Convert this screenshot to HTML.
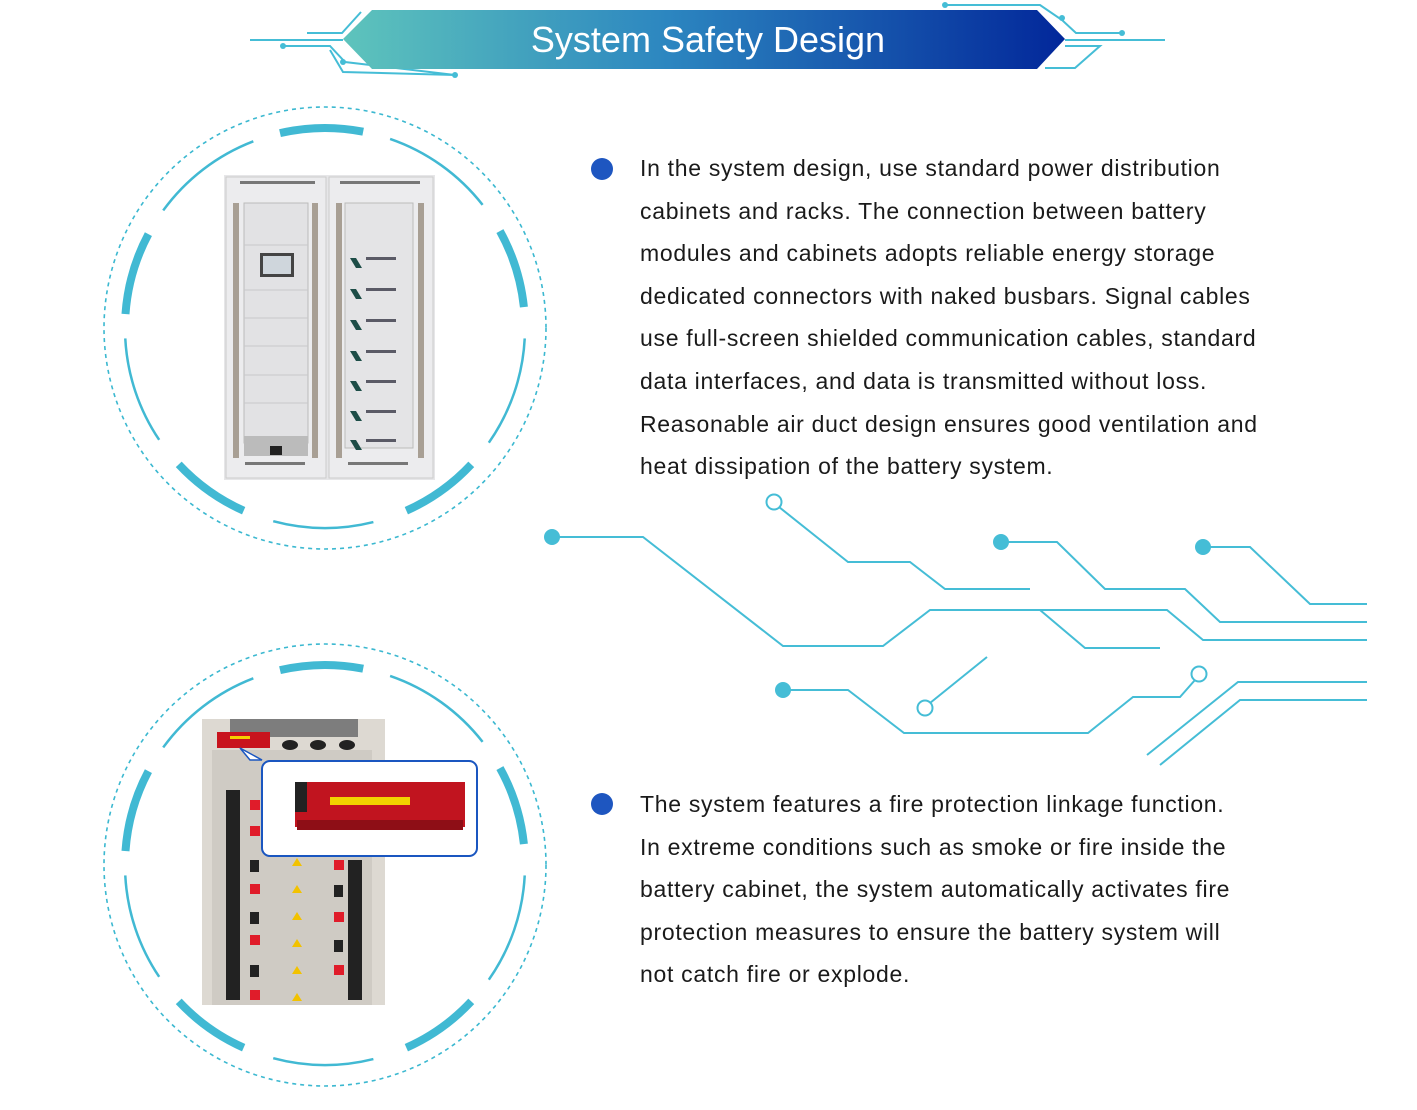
<!DOCTYPE html>
<html><head><meta charset="utf-8"><style>
html,body{margin:0;padding:0;background:#fff;}
body{width:1417px;height:1110px;position:relative;overflow:hidden;font-family:"Liberation Sans",sans-serif;}
.t{position:absolute;left:640px;font-size:23px;letter-spacing:0.7px;color:#1a1a1a;line-height:42.6px;white-space:nowrap;}
.b{position:absolute;width:22px;height:22px;border-radius:50%;background:#1e56c0;}
</style></head><body>
<svg width="1417" height="1110" style="position:absolute;left:0;top:0">
<defs>
<linearGradient id="g" x1="0" x2="1"><stop offset="0" stop-color="#5ec4bc"/><stop offset="0.45" stop-color="#2c86c0"/><stop offset="1" stop-color="#02279a"/></linearGradient>
</defs>
<g stroke="#45bdd6" stroke-width="2" fill="none">
<polyline points="250,40 343,40"/>
<polyline points="283,46 330,46 345,62 455,75"/>
<polyline points="307,33 342,33 361,12"/>
<polyline points="330,50 343,72 455,75"/>
<polyline points="945,5 1040,5 1062,20 1076,33 1122,33"/>
<polyline points="1065,40 1165,40"/>
<polyline points="1065,46 1100,46 1075,68 1045,68"/>
</g>
<g fill="#45bdd6"><circle cx="283" cy="46" r="3"/><circle cx="455" cy="75" r="3"/><circle cx="945" cy="5" r="3"/><circle cx="1122" cy="33" r="3"/><circle cx="1062" cy="18" r="3"/><circle cx="343" cy="62" r="3"/></g>
<polygon points="343,39 372,10 1037,10 1065,39 1037,69 372,69" fill="url(#g)"/>
<text x="708" y="52" text-anchor="middle" font-family="Liberation Sans,sans-serif" font-size="36" fill="#fff">System Safety Design</text>
<circle cx="325" cy="328" r="221" fill="none" stroke="#3bb8d0" stroke-width="1.6" stroke-dasharray="4 4"/>
<circle cx="325" cy="865" r="221" fill="none" stroke="#3bb8d0" stroke-width="1.6" stroke-dasharray="4 4"/>
<g id="arcs"></g>
<g stroke="#45bdd6" stroke-width="2" fill="none">
<polyline points="552,537 643,537 783,646 883,646 930,610 1167,610 1203,640 1367,640"/>
<polyline points="1040,610 1085,648 1160,648"/>
<polyline points="779,507 848,562 910,562 945,589 1030,589"/>
<polyline points="1001,542 1057,542 1105,589 1185,589 1220,622 1367,622"/>
<polyline points="1203,547 1250,547 1310,604 1367,604"/>
<polyline points="783,690 848,690 904,733 1088,733 1133,697 1180,697 1195,680"/>
<polyline points="930,703 987,657"/>
<polyline points="1147,755 1238,682 1367,682"/>
<polyline points="1160,765 1240,700 1367,700"/>
</g>
<g fill="#45bdd6"><circle cx="552" cy="537" r="8"/><circle cx="1001" cy="542" r="8"/><circle cx="1203" cy="547" r="8"/><circle cx="783" cy="690" r="8"/></g>
<g fill="#fff" stroke="#45bdd6" stroke-width="2"><circle cx="774" cy="502" r="7.5"/><circle cx="925" cy="708" r="7.5"/><circle cx="1199" cy="674" r="7.5"/></g>

<rect x="224" y="175" width="211" height="305" fill="#e6e6e8"/>
<rect x="226" y="177" width="100" height="301" fill="#ececee" stroke="#ccc"/>
<rect x="329" y="177" width="104" height="301" fill="#ececee" stroke="#ccc"/>
<g fill="#a89f94">
<rect x="233" y="203" width="6" height="255"/><rect x="312" y="203" width="6" height="255"/>
<rect x="336" y="203" width="6" height="255"/><rect x="418" y="203" width="6" height="255"/>
</g>
<rect x="244" y="203" width="64" height="240" fill="#e2e2e4" stroke="#bbb"/>
<g stroke="#c8c8ca"><line x1="244" y1="245" x2="308" y2="245"/><line x1="244" y1="290" x2="308" y2="290"/><line x1="244" y1="318" x2="308" y2="318"/><line x1="244" y1="346" x2="308" y2="346"/><line x1="244" y1="375" x2="308" y2="375"/><line x1="244" y1="403" x2="308" y2="403"/></g>
<rect x="260" y="253" width="34" height="24" fill="#444"/><rect x="263" y="256" width="28" height="18" fill="#cfd6dc"/>
<rect x="244" y="436" width="64" height="20" fill="#bbb"/><rect x="270" y="446" width="12" height="9" fill="#222"/>
<rect x="345" y="203" width="68" height="245" fill="#e4e4e6" stroke="#bbb"/>
<g fill="#1d4d47">
<polygon points="350,258 356,258 362,268 356,268"/><polygon points="350,289 356,289 362,299 356,299"/><polygon points="350,320 356,320 362,330 356,330"/><polygon points="350,351 356,351 362,361 356,361"/><polygon points="350,381 356,381 362,391 356,391"/><polygon points="350,411 356,411 362,421 356,421"/><polygon points="350,440 356,440 362,450 356,450"/>
</g>
<g fill="#5a5a66"><rect x="366" y="257" width="30" height="3"/><rect x="366" y="288" width="30" height="3"/><rect x="366" y="319" width="30" height="3"/><rect x="366" y="350" width="30" height="3"/><rect x="366" y="380" width="30" height="3"/><rect x="366" y="410" width="30" height="3"/><rect x="366" y="439" width="30" height="3"/></g>
<g fill="#777"><rect x="240" y="181" width="75" height="3"/><rect x="340" y="181" width="80" height="3"/><rect x="245" y="462" width="60" height="3"/><rect x="348" y="462" width="60" height="3"/></g>

<rect x="202" y="719" width="183" height="286" fill="#ddd9d2"/>
<rect x="230" y="719" width="128" height="18" fill="#7d7d7d"/>
<rect x="212" y="750" width="160" height="255" fill="#cfcbc4"/>
<g fill="#222"><rect x="226" y="790" width="14" height="210"/><rect x="348" y="860" width="14" height="140"/></g>
<g fill="#e01c2a">
<rect x="250" y="800" width="10" height="10"/><rect x="250" y="826" width="10" height="10"/><rect x="250" y="884" width="10" height="10"/><rect x="250" y="935" width="10" height="10"/><rect x="250" y="990" width="10" height="10"/>
<rect x="334" y="860" width="10" height="10"/><rect x="334" y="912" width="10" height="10"/><rect x="334" y="965" width="10" height="10"/>
</g>
<g fill="#222"><rect x="250" y="860" width="9" height="12"/><rect x="250" y="912" width="9" height="12"/><rect x="250" y="965" width="9" height="12"/><rect x="334" y="885" width="9" height="12"/><rect x="334" y="940" width="9" height="12"/></g>
<g fill="#f2c200"><polygon points="297,858 302,866 292,866"/><polygon points="297,885 302,893 292,893"/><polygon points="297,912 302,920 292,920"/><polygon points="297,939 302,947 292,947"/><polygon points="297,966 302,974 292,974"/><polygon points="297,993 302,1001 292,1001"/></g>
<g fill="#222"><ellipse cx="290" cy="745" rx="8" ry="5"/><ellipse cx="318" cy="745" rx="8" ry="5"/><ellipse cx="347" cy="745" rx="8" ry="5"/></g>
<rect x="217" y="732" width="53" height="16" fill="#c8141e"/><rect x="230" y="736" width="20" height="3" fill="#f5d000"/>
<polygon points="240,748 262,760 250,760" fill="#fff" stroke="#1a56c0" stroke-width="1.5"/>
<rect x="262" y="761" width="215" height="95" rx="8" fill="#fff" stroke="#1a56c0" stroke-width="2"/>
<rect x="295" y="782" width="170" height="45" fill="#c1141f"/>
<rect x="297" y="820" width="166" height="10" fill="#8e0e16"/>
<rect x="330" y="797" width="80" height="8" fill="#f2d200"/>
<rect x="295" y="782" width="12" height="30" fill="#222"/>
</svg>
<div class="b" style="left:591px;top:158px"></div>
<div class="t" style="top:147px">In the system design, use standard power distribution<br>cabinets and racks. The connection between battery<br>modules and cabinets adopts reliable energy storage<br>dedicated connectors with naked busbars. Signal cables<br>use full-screen shielded communication cables, standard<br>data interfaces, and data is transmitted without loss.<br>Reasonable air duct design ensures good ventilation and<br>heat dissipation of the battery system.</div>
<div class="b" style="left:591px;top:793px"></div>
<div class="t" style="top:783px">The system features a fire protection linkage function.<br>In extreme conditions such as smoke or fire inside the<br>battery cabinet, the system automatically activates fire<br>protection measures to ensure the battery system will<br>not catch fire or explode.</div>
<script>
var segs=[[-103,-79,8],[-71,-38,2.5],[-29,-6,8],[3,35,2.5],[43,66,8],[76,105,2.5],[114,137,8],[146,177,2.5],[184,208,8],[216,249,2.5]];
var g=document.getElementById('arcs'),h='';
[[325,328],[325,865]].forEach(function(c){segs.forEach(function(s){
var r=200,a=s[0]*Math.PI/180,b=s[1]*Math.PI/180;
var x1=c[0]+r*Math.cos(a),y1=c[1]+r*Math.sin(a),x2=c[0]+r*Math.cos(b),y2=c[1]+r*Math.sin(b);
h+='<path d="M'+x1+' '+y1+' A'+r+' '+r+' 0 0 1 '+x2+' '+y2+'" fill="none" stroke="#41b9d3" stroke-width="'+s[2]+'"/>';});});
g.innerHTML=h;
</script>
</body></html>
